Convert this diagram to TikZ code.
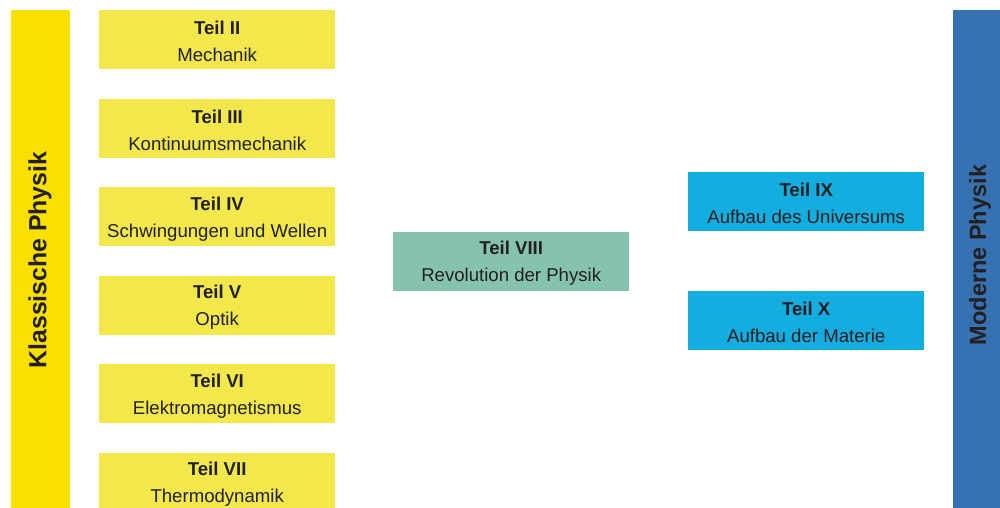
\documentclass[tikz,border=0pt]{standalone}
\usepackage{fontspec}
\setmainfont{Liberation Sans}
\definecolor{barY}{RGB}{249,224,0}
\definecolor{boxY}{RGB}{242,232,76}
\definecolor{boxG}{RGB}{134,195,175}
\definecolor{boxB}{RGB}{20,173,224}
\definecolor{barB}{RGB}{54,114,178}
\definecolor{txt}{RGB}{35,31,32}
\tikzset{
  teil/.style={minimum width=236pt,minimum height=59pt,inner sep=0pt,draw=none},
  lbl/.style={align=center,text=txt,font=\fontsize{18.6}{27}\selectfont,inner sep=0pt},
  bar/.style={text=txt,font=\fontsize{#1}{28}\selectfont\bfseries,rotate=90,inner sep=0pt}
}
\begin{document}
\begin{tikzpicture}[x=1pt,y=-1pt]
\useasboundingbox (0,0) rectangle (1000,508);
\fill[white] (0,0) rectangle (1000,508);
% side bars
\fill[barY] (11,10) rectangle (70,508);
\node[bar=24.8] (kp) at (40,260) {Klassische Physik};
\fill[barB] (953,10) rectangle (1000,508);
\node[bar=23.5] (mp) at (980,255) {Moderne Physik};
% yellow boxes
\foreach \y/\n/\t [count=\i] in {10/II/Mechanik,98.5/III/Kontinuumsmechanik,187/IV/Schwingungen und Wellen,275.5/V/Optik,364/VI/Elektromagnetismus,452.5/VII/Thermodynamik}{
  \node[teil,fill=boxY,anchor=north west] (y\i) at (99,\y) {};
  \node[lbl] (ly\i) at ([yshift=-2pt]y\i.center) {\textbf{Teil \n}\\\t};
}
% green box
\node[teil,fill=boxG,anchor=north west] (g) at (393,231.5) {};
\node[lbl] (lg) at ([yshift=-2pt]g.center) {\textbf{Teil VIII}\\Revolution der Physik};
% blue boxes
\node[teil,fill=boxB,anchor=north west] (b1) at (688,172) {};
\node[lbl] (lb1) at ([yshift=-2pt]b1.center) {\textbf{Teil IX}\\Aufbau des Universums};
\node[teil,fill=boxB,anchor=north west] (b2) at (688,290.5) {};
\node[lbl] (lb2) at ([yshift=-2pt]b2.center) {\textbf{Teil X}\\Aufbau der Materie};
\end{tikzpicture}
\end{document}
